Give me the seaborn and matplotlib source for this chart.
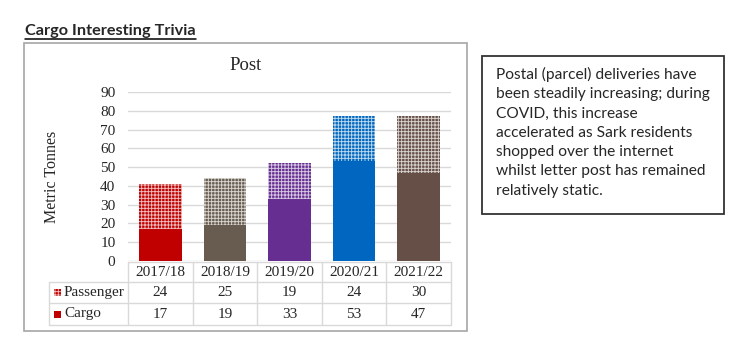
import matplotlib
matplotlib.use('Agg')
import matplotlib.pyplot as plt
import seaborn as sns
import pandas as pd
from matplotlib.patches import Rectangle
from matplotlib.lines import Line2D

# data
years = ['2017/18', '2018/19', '2019/20', '2020/21', '2021/22']
passenger = [24, 25, 19, 24, 30]
cargo = [17, 19, 33, 53, 47]
bar_colours = ['#C00000', '#675C4F', '#662E91', '#0066BF', '#654F46']
series = ['Passenger', 'Cargo']
yticks = [0, 10, 20, 30, 40, 50, 60, 70, 80, 90]

heading = 'Cargo Interesting Trivia'
chart_title = 'Post'
ylabel = 'Metric Tonnes'
note_lines = [
    'Postal (parcel) deliveries have',
    'been steadily increasing; during',
    'COVID, this increase',
    'accelerated as Sark residents',
    'shopped over the internet',
    'whilst letter post has remained',
    'relatively static.',
]

df = pd.DataFrame({'Year': years, 'Passenger': passenger, 'Cargo': cargo})
df['Total'] = df['Passenger'] + df['Cargo']

sns.set_style('white')
plt.rcParams['font.family'] = ['Liberation Serif', 'DejaVu Serif']
plt.rcParams['hatch.linewidth'] = 0.65

W, H = 732, 354
fig = plt.figure(figsize=(W / 100, H / 100), dpi=100)

HATCH = '+++++'
HATCH_C = (1, 1, 1, 0.75)


def fx(x):
    return x / W


def fy(y):
    return 1 - y / H


# plot area in pixels of the reference
X0, X1, Y0, Y1 = 128, 451, 261, 92
ax = fig.add_axes([fx(X0), fy(Y0), (X1 - X0) / W, (Y0 - Y1) / H])

# passenger on top (drawn as full stack with pattern), cargo solid below
sns.barplot(data=df, x='Year', y='Total', hue='Year', palette=bar_colours,
            width=0.66, saturation=1, errorbar=None, legend=False, ax=ax)
n_top = len(ax.patches)
for p in ax.patches:
    p.set_hatch(HATCH)
    p.set_edgecolor(HATCH_C)
    p.set_linewidth(0)
sns.barplot(data=df, x='Year', y='Cargo', hue='Year', palette=bar_colours,
            width=0.66, saturation=1, errorbar=None, legend=False, ax=ax)
for p in ax.patches[n_top:]:
    p.set_linewidth(0)

ax.set_xlim(-0.5, len(years) - 0.5)
ax.set_ylim(0, 90)
ax.set_yticks(yticks)
ax.yaxis.grid(True, color='#d9d9d9', lw=1)
ax.set_axisbelow(True)
sns.despine(ax=ax, left=True, bottom=True)
ax.tick_params(axis='y', length=0, pad=9, labelsize=11)
ax.set_xticks([])
ax.set_xlabel('')
ax.set_ylabel(ylabel, fontsize=11.5)
ax.yaxis.set_label_coords((60 - X0) / (X1 - X0), 0.5)

fig.text(fx(246), fy(66), chart_title, ha='center', va='center', fontsize=13.5)

# data table under the bars
grid_c = '#d9d9d9'
rows_y = [262, 282, 303, 325]
label_x = 49
col_w = (X1 - X0) / len(years)


def hline(x0, x1, y):
    fig.add_artist(Line2D([fx(x0), fx(x1)], [fy(y), fy(y)], color=grid_c, lw=1))


def vline(x, y0, y1):
    fig.add_artist(Line2D([fx(x), fx(x)], [fy(y0), fy(y1)], color=grid_c, lw=1))


hline(X0, X1, rows_y[0])
for y in rows_y[1:]:
    hline(label_x, X1, y)
vline(label_x, rows_y[1], rows_y[3])
for k in range(len(years) + 1):
    vline(X0 + k * col_w, rows_y[0], rows_y[3])

for k, yr in enumerate(years):
    cx = X0 + (k + 0.5) * col_w
    fig.text(fx(cx), fy((rows_y[0] + rows_y[1]) / 2), yr, ha='center', va='center', fontsize=11)
    fig.text(fx(cx), fy((rows_y[1] + rows_y[2]) / 2), str(passenger[k]), ha='center', va='center', fontsize=11)
    fig.text(fx(cx), fy((rows_y[2] + rows_y[3]) / 2), str(cargo[k]), ha='center', va='center', fontsize=11)

for i, name in enumerate(series):
    yc = (rows_y[i + 1] + rows_y[i + 2]) / 2
    is_pass = name == 'Passenger'
    mk = Rectangle((fx(54), fy(yc + 3.5)), 7 / W, 7 / H, transform=fig.transFigure,
                   facecolor=bar_colours[0], lw=0,
                   edgecolor=HATCH_C if is_pass else bar_colours[0],
                   hatch=HATCH if is_pass else None)
    fig.add_artist(mk)
    fig.text(fx(64), fy(yc), name, ha='left', va='center', fontsize=11)

# chart frame
fig.add_artist(Rectangle((fx(24), fy(331)), (467 - 24) / W, (331 - 43) / H,
                         transform=fig.transFigure, fill=False, edgecolor='#a6a6a6', lw=1.2))

# heading with underline
ht = fig.text(fx(25), fy(35), heading, ha='left', va='baseline', fontsize=11.7,
              fontweight='bold', family=['Lato', 'DejaVu Sans'])
fig.canvas.draw()
bb = ht.get_window_extent()
fig.add_artist(Line2D([bb.x0 / W, bb.x1 / W], [fy(38.5), fy(38.5)], color='black', lw=1.1))

# note box
fig.add_artist(Rectangle((fx(482), fy(214)), (724 - 482) / W, (214 - 56) / H,
                         transform=fig.transFigure, fill=False, edgecolor='#333333', lw=1.3))
for i, line in enumerate(note_lines):
    fig.text(fx(496), fy(79 + i * 19.3), line, ha='left', va='baseline', fontsize=11.2,
             family=['Lato', 'DejaVu Sans'])

fig.savefig('out.png', dpi=100)
